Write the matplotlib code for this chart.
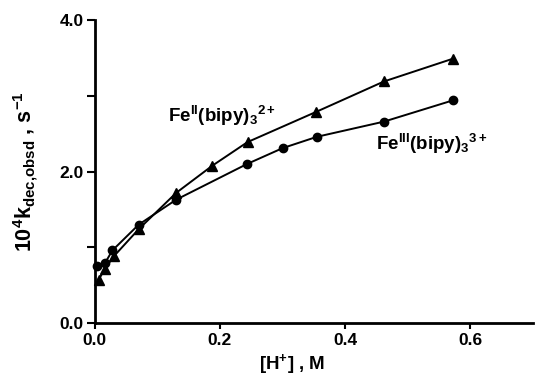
import matplotlib.pyplot as plt
from matplotlib.ticker import MultipleLocator, FormatStrFormatter

plt.rcParams['font.family'] = ['Liberation Sans', 'DejaVu Sans']
plt.rcParams['font.weight'] = 'bold'
plt.rcParams['mathtext.fontset'] = 'custom'
plt.rcParams['mathtext.rm'] = 'Liberation Sans:bold'
plt.rcParams['mathtext.it'] = 'Liberation Sans:bold'
plt.rcParams['mathtext.bf'] = 'Liberation Sans:bold'

# Fe(III)(bipy)3 3+ (circles)
h_fe3 = [0.004, 0.016, 0.028, 0.070, 0.130, 0.243, 0.300, 0.355, 0.462, 0.572]
k_fe3 = [0.76, 0.79, 0.96, 1.30, 1.63, 2.10, 2.31, 2.46, 2.66, 2.94]

# Fe(II)(bipy)3 2+ (triangles)
h_fe2 = [0.006, 0.016, 0.030, 0.070, 0.130, 0.188, 0.244, 0.354, 0.462, 0.572]
k_fe2 = [0.57, 0.72, 0.88, 1.24, 1.72, 2.08, 2.39, 2.79, 3.19, 3.49]

fig = plt.figure(figsize=(5.36, 3.87), dpi=100)
ax = fig.add_axes([0.177, 0.165, 0.817, 0.783])

ax.plot(h_fe2, k_fe2, '-', color='black', lw=1.4, marker='^', ms=7, clip_on=False)
ax.plot(h_fe3, k_fe3, '-', color='black', lw=1.4, marker='o', ms=6, clip_on=False)

ax.text(0.117, 2.66, r'Fe$^{II}$(bipy)$_{3}$$^{2+}$', fontsize=13.5, fontweight='bold')
ax.text(0.45, 2.29, r'Fe$^{III}$(bipy)$_{3}$$^{3+}$', fontsize=13.5, fontweight='bold')

ax.set_xlim(0, 0.7)
ax.set_ylim(0, 4.0)
ax.set_xticks([0, 0.2, 0.4, 0.6])
ax.yaxis.set_major_locator(MultipleLocator(2.0))
ax.yaxis.set_minor_locator(MultipleLocator(1.0))
ax.xaxis.set_major_formatter(FormatStrFormatter('%.1f'))
ax.yaxis.set_major_formatter(FormatStrFormatter('%.1f'))

for s in ['top', 'right']:
    ax.spines[s].set_visible(False)
for s in ['left', 'bottom']:
    ax.spines[s].set_linewidth(2)
ax.tick_params(which='both', width=1.5, labelsize=12.5)
ax.tick_params(axis='y', which='both', length=6, pad=2)
ax.tick_params(axis='x', length=4, pad=3)

ax.set_xlabel(r'[H$^{+}$] , M', fontsize=13.5, fontweight='bold')
ax.set_ylabel(r'10$^{4}$k$_{\mathrm{dec{,}obsd}}$ , s$^{-1}$', fontsize=15.5, fontweight='bold')
ax.xaxis.set_label_coords(0.45, -0.095)
ax.yaxis.set_label_coords(-0.125, 0.5)

fig.savefig('out.png', dpi=100)
